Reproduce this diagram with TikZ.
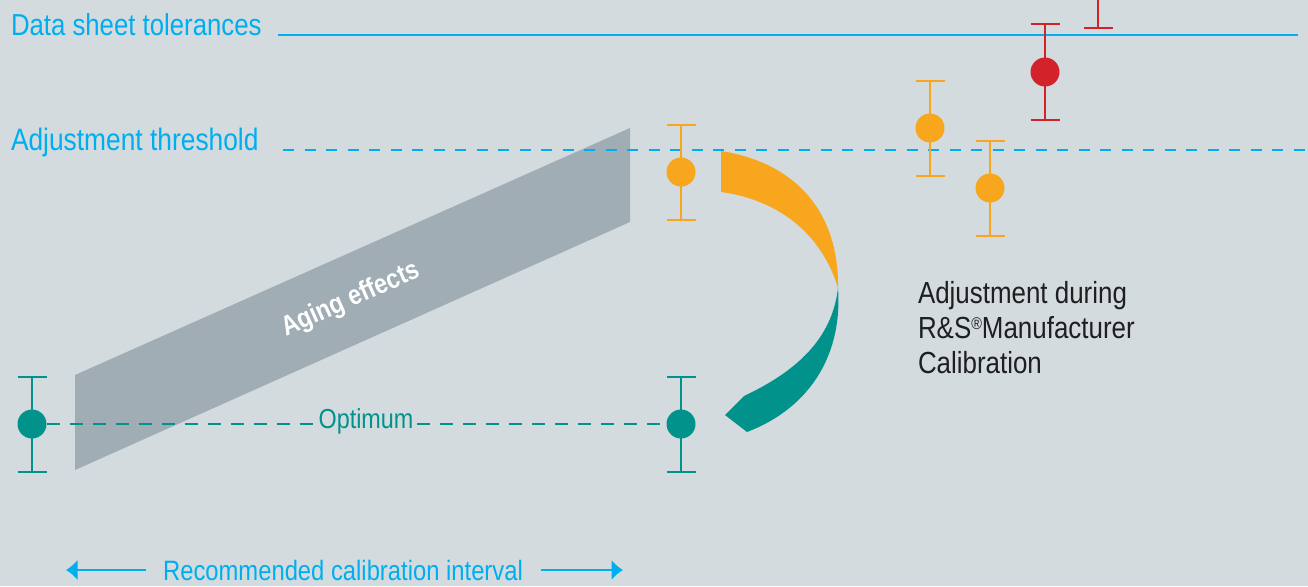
\documentclass[tikz,border=0pt]{standalone}
\usepackage{fontspec}
\setmainfont[FakeStretch=0.85]{Liberation Sans}
\usepackage{tikz}
\usetikzlibrary{arrows.meta}
\definecolor{bg}{RGB}{211,219,223}
\definecolor{rscyan}{RGB}{0,174,239}
\definecolor{rsorange}{RGB}{247,166,30}
\definecolor{rsteal}{RGB}{0,146,139}
\definecolor{rsred}{RGB}{211,35,42}
\definecolor{band}{RGB}{160,173,181}
\newcommand{\regmark}{\raisebox{8.5pt}{\fontsize{17}{17}\selectfont ®}}

\begin{document}
\begin{tikzpicture}[x=1pt,y=-1pt, >={Latex[length=11.5pt,width=21pt]}, line width=2pt,
    lbl/.style={inner sep=0pt, font=\fontsize{31}{35}\selectfont},
    small/.style={inner sep=0pt, font=\fontsize{28}{34}\selectfont},
    threshline/.style={dash pattern=on 11pt off 10.5pt},
    optline/.style={dash pattern=on 13pt off 10pt}]
    \useasboundingbox[fill=bg] (0,0) rectangle (1308,586);

    \fill[band] (75,375) -- (630,128) -- (630,222) -- (75,470) -- cycle;
    \node[inner sep=0pt, text=white, rotate=24, font=\fontsize{27.5}{30}\selectfont\bfseries](aging) at (351,300) {Aging effects};

    \node[lbl, anchor=base west, text=rscyan, font=\fontsize{30.3}{35}\selectfont](0) at (10,36) {Data sheet tolerances};
    \node[lbl, anchor=base west, text=rscyan](1) at (10,150) {Adjustment threshold};
    \coordinate(0a) at (278,35);  \coordinate(0b) at (1298,35);
    \coordinate(1a) at (283,150); \coordinate(1b) at (1308,150);
    \draw[rscyan](0a)--(0b);
    \draw[rscyan, threshline](1a)--(1b);

    \foreach \x/\y/\c [count=\i] in {32/424/rsteal, 681/424/rsteal, 681/172/rsorange, 930/128/rsorange, 990/188/rsorange, 1045/72/rsred}{
        \draw[\c] (\x-14.5,\y-47.5)--(\x+14.5,\y-47.5) (\x,\y-47.5)--(\x,\y+47.5) (\x-14.5,\y+47.5)--(\x+14.5,\y+47.5);
        \fill[\c] (\x,\y) circle (14.5);
        \coordinate(p\i) at (\x,\y);
    }
    \draw[rsred] (1098,0)--(1098,28) (1083.5,28)--(1112.5,28);

    \node[small, text=rsteal, inner xsep=3pt, font=\fontsize{27.5}{34}\selectfont, anchor=base](opt) at (366,428) {Optimum};
    \draw[rsteal, optline] ([xshift=14.5pt]p1)--(opt.west |- p1);
    \draw[rsteal, optline] (opt.east |- p2)--([xshift=-14.5pt]p2);

    \fill[rsorange] (721,151) .. controls (797,163) and (839,213) .. (838,288)
        .. controls (822,235) and (780,200) .. (721,192) -- cycle;
    \fill[rsteal] (838,288) .. controls (843,360) and (805,410) .. (747,432)
        -- (725,415) -- (744,396) .. controls (795,372) and (832,340) .. (838,288) -- cycle;

    \node[lbl, anchor=north west, align=left, text=black!88, font=\fontsize{30.5}{35}\selectfont](adj) at (917,280)
        {Adjustment during\\R\&S\regmark Manufacturer\\Calibration};

    \node[small, anchor=base, text=rscyan](rec) at (343,580) {Recommended calibration interval};
    \coordinate(l) at (66,570); \coordinate(r) at (623,570);
    \draw[->, rscyan, line width=2.5pt]([xshift=-16pt]rec.west |- l)--(l);
    \draw[->, rscyan, line width=2.5pt]([xshift=17pt]rec.east |- r)--(r);
\end{tikzpicture}
\end{document}
